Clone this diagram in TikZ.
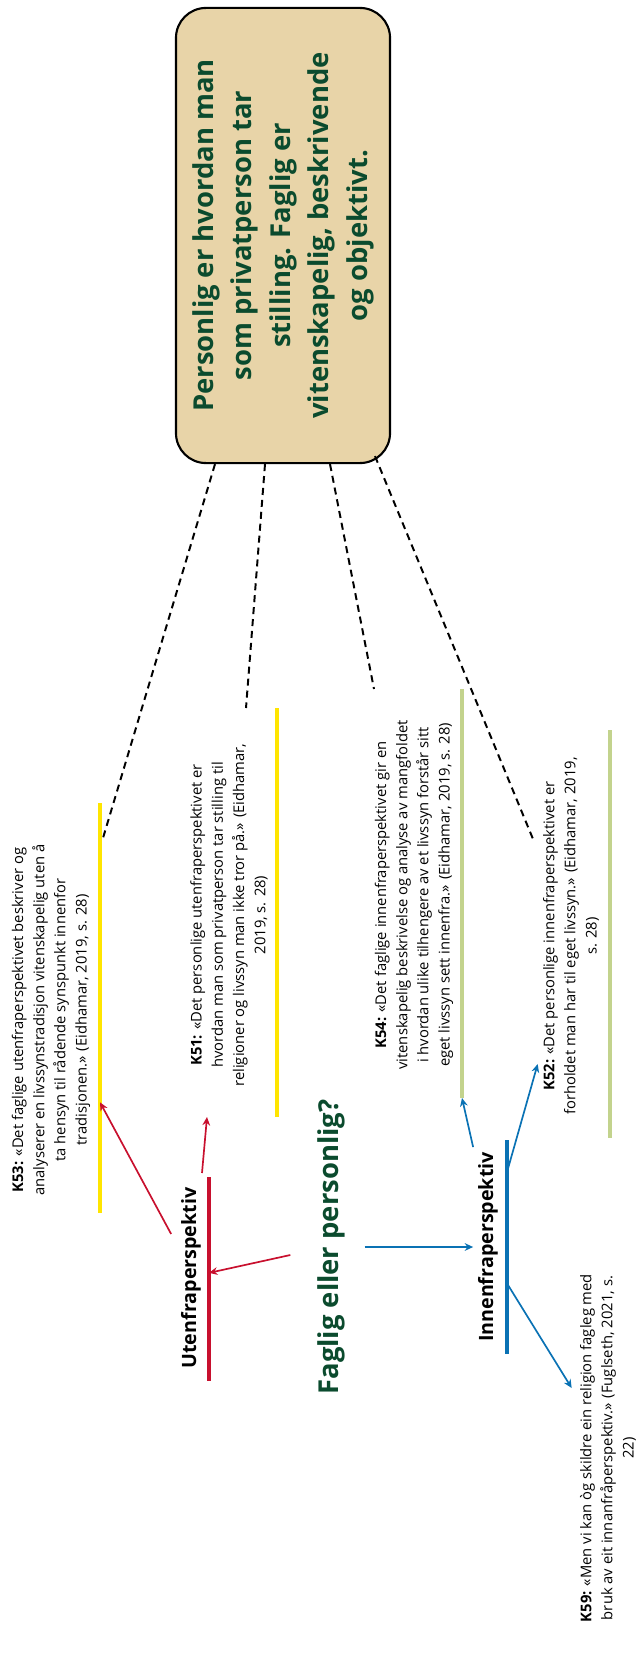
\documentclass[tikz,border=0pt]{standalone}
\usepackage{fontspec}
\setmainfont{Open Sans}
\usetikzlibrary{arrows.meta, calc}
\definecolor{boxtan}{HTML}{E8D4A8}
\definecolor{deepgreen}{HTML}{0B4B2E}
\definecolor{outred}{HTML}{C8102E}
\definecolor{inblue}{HTML}{0A72B4}
\definecolor{baryellow}{HTML}{FFE500}
\definecolor{barsage}{HTML}{C3D38D}

\begin{document}
\begin{tikzpicture}[
    x=0.025cm, y=-0.025cm,
    >=Stealth,
    redarr/.style={-{Stealth[length=6pt, width=5.5pt]}, line width=1.2pt, outred},
    bluearr/.style={-{Stealth[length=6pt, width=5.5pt]}, line width=1.2pt, inblue},
    dashline/.style={line width=1.4pt, dash pattern=on 5pt off 3.5pt},
    qbar/.style={line width=2.5pt},
    % Main box
    bigbox/.style={rotate=90, rectangle, rounded corners=0.75cm, draw=black,
                   line width=1.5pt, fill=boxtan, minimum width=11.375cm,
                   minimum height=5.35cm, align=center, text=deepgreen,
                   font=\fontsize{19.5}{27.4}\selectfont\bfseries},
    % Quote text
    quote/.style={rotate=90, align=center, inner sep=0pt,
                  font=\fontsize{10.5}{15.1}\selectfont},
    persp/.style={rotate=90, font=\fontsize{14}{17}\selectfont\bfseries}
]
\useasboundingbox (0,0) rectangle (637,1663);

% ========== Main box ==========
\node[bigbox] at (283,235.5) (box)
    {Personlig er hvordan man\\som privatperson tar\\stilling. Faglig er\\vitenskapelig, beskrivende\\og objektivt.};

% ========== Centre + perspectives ==========
\node[rotate=90, text=deepgreen, inner sep=14pt,
      font=\fontsize{19.5}{23}\selectfont\bfseries] at (331,1247) (faglig) {Faglig eller personlig?};
\node[persp] at (191,1278) (uten) {Utenfraperspektiv};
\node[persp] at (488,1247) (innen) {Innenfraperspektiv};

% ========== Quotes ==========
\node[quote] at (51,1020) (k53)
    {\textbf{K53:} «Det faglige utenfraperspektivet beskriver og\\analyserer en livssynstradisjon vitenskapelig uten å\\ta hensyn til rådende synspunkt innenfor\\tradisjonen.» (Eidhamar, 2019, s. 28)};
\node[quote] at (229,915) (k51)
    {\textbf{K51:} «Det personlige utenfraperspektivet er\\hvordan man som privatperson tar stilling til\\religioner og livssyn man ikke tror på.» (Eidhamar,\\2019, s. 28)};
\node[quote] at (414,895) (k54)
    {\textbf{K54:} «Det faglige innenfraperspektivet gir en\\vitenskapelig beskrivelse og analyse av mangfoldet\\i hvordan ulike tilhengere av et livssyn forstår sitt\\eget livssyn sett innenfra.» (Eidhamar, 2019, s. 28)};
\node[quote] at (571,936) (k52)
    {\textbf{K52:} «Det personlige innenfraperspektivet er\\forholdet man har til eget livssyn.» (Eidhamar, 2019,\\s. 28)};
\node[quote] at (608,1448) (k59)
    {\textbf{K59:} «Men vi kan òg skildre ein religion fagleg med\\bruk av eit innanfråperspektiv.» (Fuglseth, 2021, s.\\22)};

% ========== Bars ==========
\coordinate (k53top) at (100,803);   \coordinate (k53bot) at (100,1213);
\coordinate (k51top) at (277,708);   \coordinate (k51bot) at (277,1117);
\coordinate (k54top) at (462,689);   \coordinate (k54bot) at (462,1098);
\coordinate (k52top) at (610,730);   \coordinate (k52bot) at (610,1138);
\coordinate (utentop) at (209,1177); \coordinate (utenbot) at (209,1381);
\coordinate (innentop) at (507,1140); \coordinate (innenbot) at (507,1354);

\draw[qbar, baryellow] (k53top) -- (k53bot);
\draw[qbar, baryellow] (k51top) -- (k51bot);
\draw[qbar, barsage] (k54top) -- (k54bot);
\draw[qbar, barsage] (k52top) -- (k52bot);
\draw[qbar, outred] (utentop) -- (utenbot);
\draw[qbar, inblue] (innentop) -- (innenbot);

% ========== Dashed links from box ==========
\coordinate (k53end) at (103,838);
\coordinate (k51end) at (246,708);
\coordinate (k54end) at (374,689);
\coordinate (k52end) at (533,839);
\draw[dashline] ($(box.west)+(-68,0)$) -- (k53end);
\draw[dashline] ($(box.west)+(-18,0)$) -- (k51end);
\draw[dashline] ($(box.west)+(47,0)$) -- (k54end);
\draw[dashline] ($(box.west)+(92,-8)$) -- (k52end);

% ========== Arrows ==========
% utenfra side
\draw[redarr] ($(uten.north)+(-5,-44)$) -- ($(k53top)!0.73!(k53bot)$);
\draw[redarr] ($(utentop)+(-7,-4)$) -- ($(k51bot)+(-70,0)$);
\draw[redarr] ($(faglig.north)+(-7,8)$) -- ($(utentop)!0.47!(utenbot)$);
% innenfra side
\draw[bluearr] (faglig.south) -- (innen.north);
\draw[bluearr] (innen.north east) -- (k54bot);
\draw[bluearr] ($(innentop)!0.15!(innenbot)$) -- ($(k52.north west)+(-5,-51)$);
\draw[bluearr] ($(innentop)!0.67!(innenbot)$) -- ($(k59.north)+(-8,-60)$);

\end{tikzpicture}
\end{document}
